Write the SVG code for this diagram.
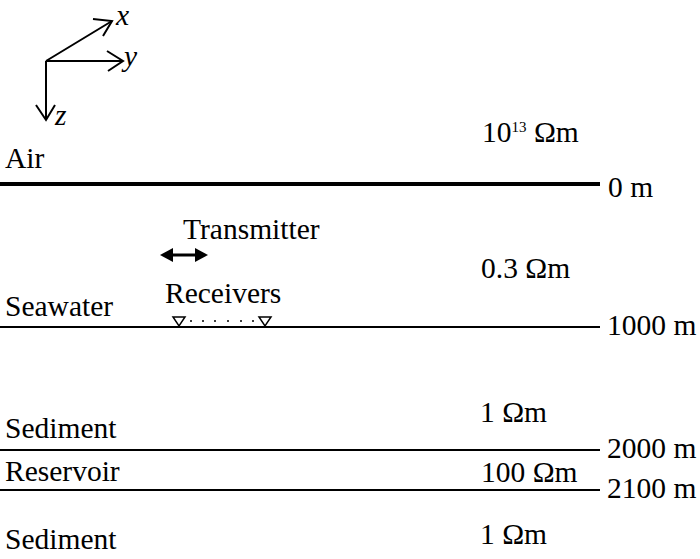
<svg xmlns="http://www.w3.org/2000/svg" width="700" height="559" viewBox="0 0 700 559">
<style>
.t{font-family:'Liberation Serif','Times New Roman',serif;font-size:29.5px;fill:#000}
.it{font-style:italic}
.ax{stroke:#000;stroke-width:2;fill:none}
.bd{stroke:#000;stroke-width:2}
.rx{fill:#fff;stroke:#000;stroke-width:1.5}
</style>
<rect width="700" height="559" fill="#fff"/>
<g id="axes">
<path class="ax" d="M46,61 L112,21 M46,61 L123,61 M46,61 L46,120"/>
<path class="ax" d="M93,19 L112,21 L103,36"/>
<path class="ax" d="M107,51 L123,61 L108,71"/>
<path class="ax" d="M36,105 L46,120 L55,105"/>
<text class="t it" x="116" y="25">x</text>
<text class="t it" x="124" y="66">y</text>
<text class="t it" x="55" y="125">z</text>
</g>
<g id="connectors">
<line x1="0" y1="184" x2="600" y2="184" stroke="#000" stroke-width="4"/>
<line class="bd" x1="0" y1="327" x2="600" y2="327"/>
<line class="bd" x1="0" y1="450" x2="600" y2="450"/>
<line class="bd" x1="0" y1="490" x2="600" y2="490"/>
</g>
<g id="labels">
<text class="t" x="5" y="168">Air</text>
<text class="t" x="5" y="316">Seawater</text>
<text class="t" x="5" y="438">Sediment</text>
<text class="t" x="5" y="481">Reservoir</text>
<text class="t" x="5" y="549">Sediment</text>
<text class="t" x="482" y="142">10<tspan font-size="15" dy="-10">13</tspan><tspan dy="10"> Ωm</tspan></text>
<text class="t" x="481" y="278">0.3 Ωm</text>
<text class="t" x="480" y="422">1 Ωm</text>
<text class="t" x="481" y="482">100 Ωm</text>
<text class="t" x="480" y="544">1 Ωm</text>
<text class="t" x="608" y="197">0 m</text>
<text class="t" x="607" y="335">1000 m</text>
<text class="t" x="607" y="458">2000 m</text>
<text class="t" x="607" y="498">2100 m</text>
</g>
<g id="transmitter">
<text class="t" x="183" y="239">Transmitter</text>
<line x1="168" y1="255" x2="200" y2="255" stroke="#000" stroke-width="3"/>
<polygon points="160,255 173,248 173,262"/>
<polygon points="208,255 195,248 195,262"/>
</g>
<g id="receivers">
<text class="t" x="165" y="303">Receivers</text>
<polygon class="rx" points="173,317 185,317 179,326"/>
<polygon class="rx" points="259,317 271,317 265,326"/>
<g fill="#000">
<circle cx="191" cy="321" r="1"/>
<circle cx="203" cy="321" r="1"/>
<circle cx="215" cy="321" r="1"/>
<circle cx="228" cy="321" r="1"/>
<circle cx="241" cy="321" r="1"/>
<circle cx="253" cy="321" r="1"/>
</g>
</g>
</svg>
